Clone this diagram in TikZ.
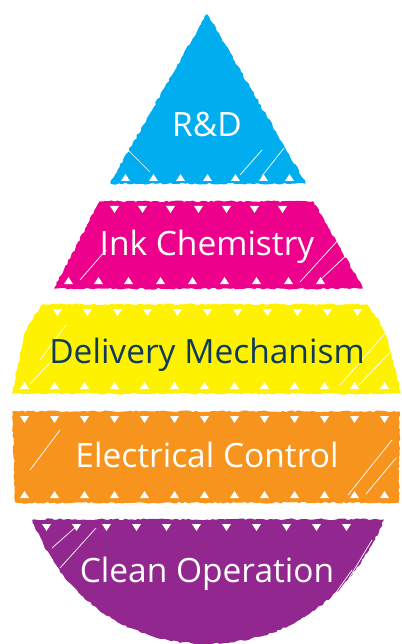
\documentclass[tikz,border=0pt]{standalone}
\usepackage{fontspec}
\setmainfont{Open Sans}
\usetikzlibrary{decorations.pathmorphing}
\definecolor{inkcyan}{HTML}{00AEEF}
\definecolor{inkmagenta}{HTML}{EC008C}
\definecolor{inkyellow}{HTML}{FFF200}
\definecolor{inkorange}{HTML}{F7941D}
\definecolor{inkpurple}{HTML}{92278F}
\definecolor{inknavy}{HTML}{0E3A5C}
\tikzset{
  rough/.style={decorate,decoration={random steps,segment length=3pt,amplitude=0.9pt}},
  band/.style={rough,fill=#1,draw=#1,line width=1.4pt,line join=round},
  notch/.style={fill=white},
  scribble/.style={white,line width=0.7pt,line cap=round},
  bandtext/.style={font=\fontsize{33.5}{36}\selectfont,text=#1,anchor=base},
}
\begin{document}
\begin{tikzpicture}[x=1pt,y=-1pt]
\useasboundingbox (0,0) rectangle (401,644);
\pgfmathsetseed{7}
% Draw bands
  \path[band=inkcyan] (207,15) -- (305,183) -- (111,183) -- cycle;
  \path[band=inkmagenta] (100,202) -- (313,202) -- (362,288) -- (55,288) -- cycle;
  \path[band=inkyellow] (43,305) -- (367,305) .. controls (385,330) .. (400,393)
    -- (13,393) .. controls (25,330) .. (43,305) -- cycle;
  \path[band=inkorange] (13,412) -- (399,412) -- (398,502) -- (16,502) -- cycle;
  \path[band=inkpurple] (33,520) -- (383,520) .. controls (354,590) and (294,643) .. (207,643)
    .. controls (120,643) and (60,590) .. (33,520) -- cycle;

% Draw notches
  \foreach \x in {121,149,176,203,231,259,285} {
    \fill[notch] (\x,181) -- ++(9,0) -- ++(-4.5,-7) -- cycle;
  }
  \foreach \x in {110,138,166,194,222,250,278} {
    \fill[notch] (\x,206) -- ++(9,0) -- ++(-4.5,7) -- cycle;
  }
  \foreach \x in {64,94,124,156,188,220,252,284,316} {
    \fill[notch] (\x,284) -- ++(9,0) -- ++(-4.5,-7) -- cycle;
  }
  \foreach \x in {53,83,...,353} {
    \fill[notch] (\x,309) -- ++(9,0) -- ++(-4.5,7) -- cycle;
  }
  \foreach \x in {20,50,...,380} {
    \fill[notch] (\x,389) -- ++(9,0) -- ++(-4.5,-7) -- cycle;
  }
  \foreach \x in {20,50,...,380} {
    \fill[notch] (\x,416) -- ++(9,0) -- ++(-4.5,7) -- cycle;
  }
  \foreach \x in {20,50,...,380} {
    \fill[notch] (\x,498) -- ++(9,0) -- ++(-4.5,-7) -- cycle;
  }
  \foreach \x in {42,72,...,362} {
    \fill[notch] (\x,524) -- ++(9,0) -- ++(-4.5,7) -- cycle;
  }

% Draw scribbles
  \foreach \a/\b/\c/\d in {240/175/262/150, 262/176/284/148, 150/172/128/150,
      300/282/340/238, 318/282/352/250, 80/280/106/250,
      340/385/388/330, 358/386/394/348, 40/360/66/325, 30/384/52/360,
      348/495/392/440, 366/494/396/458, 30/470/60/430,
      52/548/78/525, 60/568/96/528, 345/585/372/540, 320/615/352/570} {
    \draw[scribble] (\a,\b) -- (\c,\d);
  }

% Draw labels
  \foreach \y/\t/\c/\n in {137/R\&D/white/rnd, 255/Ink Chemistry/white/ink,
      363/Delivery Mechanism/inknavy/delivery, 467/Electrical Control/white/electrical,
      582/Clean Operation/white/clean} {
    \node[bandtext=\c] (\n) at (207,\y) {\t};
  }
\end{tikzpicture}
\end{document}
